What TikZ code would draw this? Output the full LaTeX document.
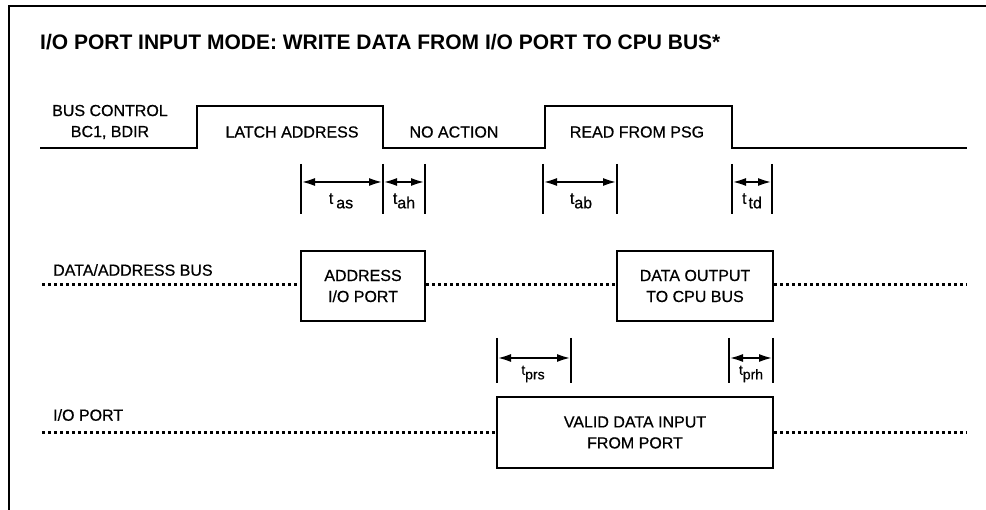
\documentclass[tikz,border=0pt]{standalone}
\usepackage{fontspec}
\setmainfont{Liberation Sans}
\newfontfamily\labelfont[FakeBold=0.6]{Liberation Sans}
\usetikzlibrary{arrows.meta}
\newcommand\tsubx[2]{t\hspace{#1}\raisebox{-4.5pt}{#2}}
\begin{document}
\begin{tikzpicture}[x=1pt,y=-1pt,
  lbl/.style={font=\labelfont\fontsize{16}{21}\selectfont, inner sep=0pt, align=center},
  sublbl/.style={font=\labelfont\fontsize{16}{17}\selectfont, inner sep=0pt},
  smallsub/.style={font=\labelfont\fontsize{14}{15}\selectfont, inner sep=0pt},
  wave/.style={line width=2.4pt, line join=miter},
  tickline/.style={line width=2.4pt},
  dimarrow/.style={line width=2.4pt, {Latex[length=14pt,width=8pt]}-{Latex[length=14pt,width=8pt]}},
  bus/.style={line width=3pt, dash pattern=on 3pt off 3pt},
  busbox/.style={draw, line width=2.4pt, inner sep=0pt, align=center, font=\labelfont\fontsize{16}{21}\selectfont},
  frameline/.style={line width=2.2pt}]
\useasboundingbox (0,0) rectangle (986,510);
% frame
\coordinate (fb) at (9,510);
\coordinate (ftl) at (9,6);
\coordinate (ftr) at (986,6);
\draw[frameline] (fb) -- (ftl) -- (ftr);
% title
\node[anchor=west, inner sep=0pt, font=\fontsize{21}{22}\selectfont\bfseries] (title) at (40,42)
  {I/O PORT INPUT MODE: WRITE DATA FROM I/O PORT TO CPU BUS*};
% bus control waveform
\coordinate (w0) at (40,148);
\coordinate (w1) at (967,148);
\draw[wave] (w0) -- (197,148) -- (197,106) -- (383,106) -- (383,148) -- (545,148)
  -- (545,106) -- (732,106) -- (732,148) -- (w1);
\node[lbl] (bclbl) at (110,122) {BUS CONTROL\\BC1, BDIR};
\node[lbl] (latch) at (292,132) {LATCH ADDRESS};
\node[lbl] (noact) at (454,132) {NO ACTION};
\node[lbl] (readpsg) at (637,132) {READ FROM PSG};
% timing ticks row 1
\foreach \n/\x in {a/301,b/383,c/425,d/543,e/617,f/732,g/772}{
  \coordinate (t\n top) at (\x,164);
  \coordinate (t\n bot) at (\x,214);
  \coordinate (t\n mid) at (\x,182);
  \draw[tickline] (t\n top) -- (t\n bot);
}
\draw[dimarrow] (tamid) -- (tbmid);
\draw[dimarrow] (tbmid) -- (tcmid);
\draw[dimarrow] (tdmid) -- (temid);
\draw[dimarrow] (tfmid) -- (tgmid);
\node[sublbl] (tas) at (341,201) {\tsubx{3pt}{as}};
\node[sublbl] (tah) at (404,201) {\tsubx{0pt}{ah}};
\node[sublbl] (tab) at (581,201) {\tsubx{0pt}{ab}};
\node[sublbl] (ttd) at (752,201) {\tsubx{2pt}{td}};
% data/address bus
\node[lbl, anchor=west] (dablbl) at (53,270) {DATA/ADDRESS BUS};
\node[busbox, minimum width=124pt, minimum height=70pt] (addr) at (363,286) {ADDRESS\\I/O PORT};
\node[busbox, minimum width=156pt, minimum height=70pt] (dout) at (695,286) {DATA OUTPUT\\TO CPU BUS};
\coordinate (da0) at (42,285);
\coordinate (da1) at (967,285);
\draw[bus] (da0) -- (addr.west |- da0);
\draw[bus] (addr.east |- da0) -- (dout.west |- da0);
\draw[bus] (dout.east |- da0) -- (da1);
% timing ticks row 2
\foreach \n/\x in {h/497,i/571,j/729,k/773}{
  \coordinate (t\n top) at (\x,338);
  \coordinate (t\n bot) at (\x,383);
  \coordinate (t\n mid) at (\x,358);
  \draw[tickline] (t\n top) -- (t\n bot);
}
\draw[dimarrow] (thmid) -- (timid);
\draw[dimarrow] (tjmid) -- (tkmid);
\node[smallsub] (tprs) at (533,374) {\tsubx{0pt}{prs}};
\node[smallsub] (tprh) at (751,374) {\tsubx{0pt}{prh}};
% I/O port
\node[lbl, anchor=west] (iolbl) at (53,415) {I/O PORT};
\node[busbox, minimum width=276pt, minimum height=71pt] (valid) at (635,432.5) {VALID DATA INPUT\\FROM PORT};
\coordinate (io0) at (42,433);
\coordinate (io1) at (967,433);
\draw[bus] (io0) -- (valid.west |- io0);
\draw[bus] (valid.east |- io0) -- (io1);
\end{tikzpicture}
\end{document}
